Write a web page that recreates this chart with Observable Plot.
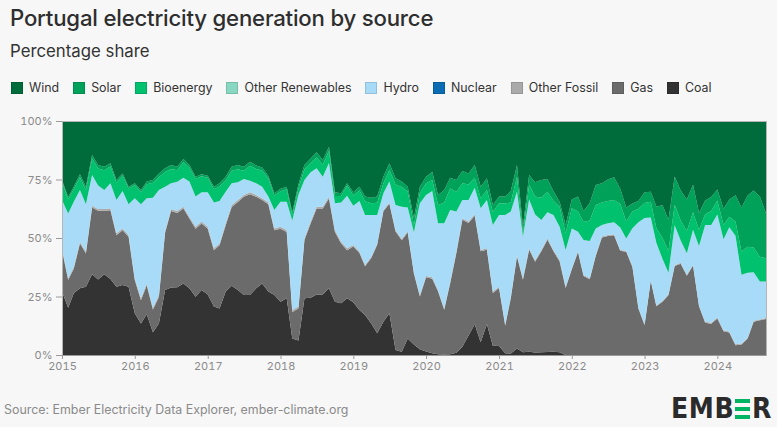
<!DOCTYPE html>
<html>
<head>
<meta charset="utf-8">
<script src="https://cdn.jsdelivr.net/npm/d3@7"></script>
<script src="https://cdn.jsdelivr.net/npm/@observablehq/plot@0.6"></script>
<style>
  html, body { margin: 0; padding: 0; background: #f7f7f7; }
  #wrap { position: relative; width: 777px; height: 427px; overflow: hidden; background: #f7f7f7; font-family: Inter, "Noto Sans", sans-serif; }
  #title { position: absolute; left: 10px; top: 4px; font-size: 22.2px; font-weight: 500; color: #2e2e2e; white-space: nowrap; letter-spacing: -0.2px; }
  #subtitle { position: absolute; left: 10px; top: 41px; font-size: 16.8px; font-weight: 400; color: #333; white-space: nowrap; }
  #legend { position: absolute; left: 11px; top: 80px; display: flex; align-items: center; font-size: 12.4px; color: #333; white-space: nowrap; }
  .item { display: flex; align-items: center; margin-right: 14px; }
  .sw { width: 12px; height: 12px; margin-right: 6px; box-sizing: border-box; }
  #chart { position: absolute; left: 0; top: 105px; }
  #source { position: absolute; left: 4px; top: 402px; font-size: 12.4px; color: #8a8a8a; white-space: nowrap; }
  #logo { position: absolute; right: 5px; top: 395px; display: flex; align-items: center; font-family: "Liberation Sans Narrow", "DejaVu Sans Condensed", "Liberation Sans", sans-serif; font-weight: 700; font-size: 28px; color: #2b2b2b; letter-spacing: 0.5px; line-height: 28px; }
  .bars { display: inline-flex; flex-direction: column; justify-content: space-between; width: 15px; height: 20px; margin: 0 2px 0 1px; position: relative; }
  .bars span.b { display: block; height: 4px; background: #00b464; }
  .bars span.t { position: absolute; left: 0; top: 0; color: transparent; font-size: 18px; line-height: 20px; }
</style>
</head>
<body>
<div id="wrap">
  <div id="title">Portugal electricity generation by source</div>
  <div id="subtitle">Percentage share</div>
  <div id="legend"></div>
  <div id="chart"></div>
  <div id="source">Source: Ember Electricity Data Explorer, ember-climate.org</div>
  <div id="logo"><span>EMB</span><span class="bars"><span class="b"></span><span class="b"></span><span class="b"></span><span class="t">E</span></span><span>R</span></div>
</div>
<script>
// ---- Data (monthly share %, Jan 2015 – Sep 2024) ----
const years = [2015, 2016, 2017, 2018, 2019, 2020, 2021, 2022, 2023, 2024];

const coal = [
  27.1,20.2,26.4,28.5,29.2,34.5,32.3,34.5,32.5,29.2,29.9,29.2,
  17.8,13.5,17.4,9.7,13.5,27.8,28.8,28.9,30.6,28.5,24.9,27.8,
  25.9,20.7,19.9,27.1,29.6,27.8,25.6,25.6,28.5,30.6,27.1,25.6,
  22.8,24.2,7.1,6.2,24.2,24.5,25.9,25.9,28.5,22.8,22.1,24.2,
  22.5,19.2,17.1,13.5,9.3,14.2,17.8,2.1,1.4,7.1,4.5,2.5,
  1.5,0.8,0.3,0.2,0.3,1.0,3.5,8.3,13.1,5.5,13.2,4.0,
  3.8,0.8,0.6,2.8,1.2,1.4,1.1,1.2,1.3,1.4,1.2,0,
  0,0,0,0,0,0,0,0,0,0,0,0,
  0,0,0,0,0,0,0,0,0,0,0,0,
  0,0,0,0,0,0,0,0,0
];
const gas = [
  17.7,11.8,10.5,19.1,14.2,28.5,29.3,27.1,29.4,22.0,23.4,21.3,
  14.2,9.9,12.4,9.7,11.3,24.4,32.7,31.8,32.0,29.8,29.1,28.4,
  28.1,24.1,27.0,28.4,33.7,37.6,42.0,43.1,39.1,35.6,37.3,27.7,
  31.2,28.4,11.3,13.7,24.9,31.7,36.7,36.7,38.4,29.8,25.5,20.6,
  23.9,24.4,20.8,27.9,37.8,47.2,46.8,50.7,47.6,45.3,30.3,22.5,
  31.7,31.8,26.9,19.1,30.4,42.6,54.3,48.1,46.4,38.8,31.8,22.5,
  24.8,11.7,23.7,39.3,31.0,43.6,38.8,43.1,48.0,42.9,38.8,28.6,
  36.6,44.0,33.8,32.4,42.3,50.2,50.9,51.2,44.5,44.1,37.6,19.9,
  12.7,31.7,20.8,22.8,25.6,38.0,39.0,33.9,38.2,20.8,13.8,13.4,
  15.6,10.2,9.6,4.2,4.5,7.0,14.2,14.8,15.4
];
const otherFossil = [
  0.8,0.8,0.8,0.8,0.8,0.8,0.8,0.8,0.8,0.8,0.8,0.8,
  0.8,0.8,0.8,0.8,0.8,0.8,0.8,0.8,0.8,0.8,0.8,0.8,
  0.8,0.8,0.8,0.8,0.8,0.8,0.8,0.8,0.8,0.8,0.8,0.8,
  0.8,0.8,0.8,0.8,0.8,0.8,0.8,0.8,0.8,0.8,0.8,0.8,
  0.6,0.6,0.6,0.6,0.6,0.6,0.6,0.6,0.6,0.6,0.6,0.6,
  0.6,0.6,0.6,0.6,0.6,0.6,0.6,0.6,0.6,0.6,0.6,0.6,
  0.6,0.6,0.6,0.6,0.6,0.6,0.6,0.6,0.6,0.6,0.6,0.6,
  0.4,0.4,0.4,0.4,0.4,0.4,0.4,0.4,0.4,0.4,0.4,0.4,
  0.4,0.4,0.4,0.4,0.4,0.4,0.4,0.4,0.4,0.4,0.4,0.4,
  0.4,0.4,0.4,0.4,0.4,0.4,0.4,0.4,0.4
];
const hydro = [
  20.6,27.7,27.8,22.1,20.2,13.1,10.0,8.1,10.7,14.2,16.0,13.1,
  34.2,40.2,36.4,47.0,44.9,18.9,11.1,12.5,12.4,15.0,12.9,12.5,
  14.7,19.6,18.1,13.5,9.3,7.6,6.8,5.0,5.0,4.9,2.5,7.9,
  10.7,12.1,38.3,47.8,24.9,21.1,16.4,12.8,14.4,11.4,16.8,22.5,
  16.8,21.6,21.3,17.8,12.1,7.1,8.9,10.7,13.8,10.0,17.1,39.2,
  34.6,36.9,28.5,36.4,30.7,17.1,7.8,9.2,11.4,17.8,20.6,28.5,
  30.6,46.7,36.4,27.1,17.8,20.9,19.5,12.8,11.1,14.9,14.2,15.7,
  17.1,8.3,14.9,15.9,11.4,5.0,5.0,5.1,9.6,5.3,16.2,36.4,
  45.4,26.7,26.8,17.8,9.2,17.0,9.5,9.2,14.9,25.4,41.4,41.8,
  44.0,38.9,44.6,46.4,29.4,27.8,20.8,16.2,15.6
];
const bioenergy = [
  7.9,6.1,5.3,5.5,6.1,7.1,7.3,8.5,7.2,7.5,6.6,6.8,
  5.6,5.2,6.0,6.4,5.6,6.3,6.1,4.9,6.6,5.9,7.5,6.9,
  6.2,5.6,6.2,4.8,5.3,5.6,3.5,6.4,6.1,6.9,7.7,6.2,
  4.5,5.3,2.3,2.9,4.6,3.9,4.6,5.1,5.2,3.2,2.7,4.3,
  4.4,4.5,5.9,5.0,5.3,4.3,5.0,8.8,8.4,6.9,3.0,4.3,
  5.0,4.7,7.8,8.9,9.2,8.5,7.2,6.7,4.3,4.3,4.3,5.5,
  5.0,4.9,3.9,6.4,1.4,6.4,7.7,9.5,8.8,6.0,8.6,7.1,
  8.6,8.6,7.7,8.8,10.0,9.6,9.5,9.5,10.0,7.4,7.1,5.8,
  6.5,6.7,6.3,9.0,9.3,8.8,8.6,9.5,7.5,6.9,4.6,5.9,
  6.0,6.1,4.5,6.0,9.9,11.1,10.5,10.6,9.9
];
const solar = [
  0.7,0.9,1.1,1.2,1.4,1.5,1.5,1.5,1.3,1.1,0.9,0.7,
  0.8,0.9,1.1,1.2,1.5,1.6,1.7,1.6,1.4,1.2,1.0,0.8,
  0.9,1.1,1.4,1.6,1.8,1.8,1.8,1.7,1.5,1.3,1.1,0.9,
  1.0,1.1,1.2,1.6,1.8,2.0,2.2,2.0,1.7,1.5,1.2,1.0,
  1.3,1.6,2.0,2.4,2.6,2.8,2.8,2.6,2.3,2.0,3.0,2.8,
  2.8,3.5,4.3,5.3,4.6,5.0,5.2,4.7,5.4,4.9,5.0,3.0,
  2.9,3.0,4.9,5.0,2.8,4.0,6.1,7.6,5.4,4.2,2.1,3.6,
  3.8,6.4,4.7,7.5,8.6,8.2,9.2,9.8,6.5,5.8,3.4,3.3,
  4.6,4.3,9.2,14.0,13.3,12.1,12.8,13.4,11.8,7.2,5.8,6.0,
  4.7,6.9,7.4,11.3,18.8,21.9,24.4,25.7,19.2
];
const wind = [
  25.2,32.5,28.1,22.8,28.1,14.5,18.8,19.5,18.1,25.2,22.4,28.1,
  26.6,29.5,25.9,25.2,22.4,20.2,18.8,19.5,16.2,18.8,23.8,22.8,
  23.4,28.1,26.6,23.8,19.5,18.8,19.5,17.4,19.0,19.9,23.5,30.9,
  29.0,28.1,39.0,27.0,18.8,16.0,13.4,16.7,11.0,30.5,30.9,26.6,
  30.5,28.1,32.3,32.8,32.3,23.8,18.1,24.5,25.9,28.1,41.5,28.1,
  23.8,21.7,31.6,29.5,24.2,25.2,21.4,22.4,18.8,28.1,24.5,35.9,
  32.3,32.3,29.9,18.8,45.2,23.1,26.2,25.2,24.8,30.0,34.5,44.4,
  33.5,32.3,38.5,35.0,27.3,26.6,25.0,24.0,29.0,37.0,35.3,34.2,
  30.4,30.2,36.5,36.0,42.2,23.7,29.7,33.6,27.2,39.3,34.0,32.5,
  29.3,37.5,33.5,31.7,37.0,31.8,29.7,32.3,39.5
];

// Legend (top-to-bottom order as shown)
const legendLabels = ["Wind","Solar","Bioenergy","Other Renewables","Hydro","Nuclear","Other Fossil","Gas","Coal"];
const legendColors = ["#006b3b","#00a158","#00c16d","#88d8c2","#a8dbf7","#0a6cb2","#aaaaaa","#6b6b6b","#333333"];

// Stack order bottom -> top
const stackOrder = ["Coal","Gas","Other Fossil","Hydro","Bioenergy","Solar","Wind"];
const seriesArrays = { "Coal": coal, "Gas": gas, "Other Fossil": otherFossil, "Hydro": hydro, "Bioenergy": bioenergy, "Solar": solar, "Wind": wind };

const months = d3.utcMonth.range(new Date(Date.UTC(2015, 0, 1)), new Date(Date.UTC(2024, 9, 1)));
const rows = [];
for (const s of stackOrder) {
  seriesArrays[s].forEach((v, i) => rows.push({ date: months[i], source: s, value: v }));
}
const yearTicks = years.map(y => new Date(Date.UTC(y, 0, 1)));

// legend
const leg = document.getElementById("legend");
legendLabels.forEach((lab, k) => {
  const it = document.createElement("div");
  it.className = "item";
  const sw = document.createElement("div");
  sw.className = "sw";
  sw.style.background = legendColors[k];
  sw.style.border = "1px solid rgba(0,0,0,0.12)";
  const tx = document.createElement("span");
  tx.textContent = lab;
  it.appendChild(sw); it.appendChild(tx);
  leg.appendChild(it);
});

const chart = Plot.plot({
  width: 777,
  height: 275,
  marginLeft: 62,
  marginRight: 11,
  marginTop: 16,
  marginBottom: 25,
  style: { background: "transparent", fontFamily: "Inter, 'Noto Sans', sans-serif", fontSize: "11px", color: "#8a8a8a" },
  x: { type: "utc", domain: [months[0], months[months.length - 1]], label: null },
  y: { domain: [0, 100], label: null },
  color: { domain: legendLabels, range: legendColors },
  marks: [
    Plot.areaY(rows, { x: "date", y: "value", z: "source", fill: "source", order: stackOrder, curve: "linear" }),
    Plot.frame({ stroke: "#b5b5b5", strokeWidth: 1 }),
    Plot.ruleY([0], { stroke: "#9a9a9a" }),
    Plot.axisX({ ticks: yearTicks, tickFormat: "%Y", tickSize: 4, tickPadding: 3, stroke: "#9a9a9a", fill: "#8a8a8a" }),
    Plot.axisY({ ticks: [0, 25, 50, 75, 100], tickFormat: d => d + "%", tickSize: 6, tickPadding: 4, stroke: "#9a9a9a", fill: "#8a8a8a" })
  ]
});
document.getElementById("chart").appendChild(chart);
</script>
</body>
</html>
